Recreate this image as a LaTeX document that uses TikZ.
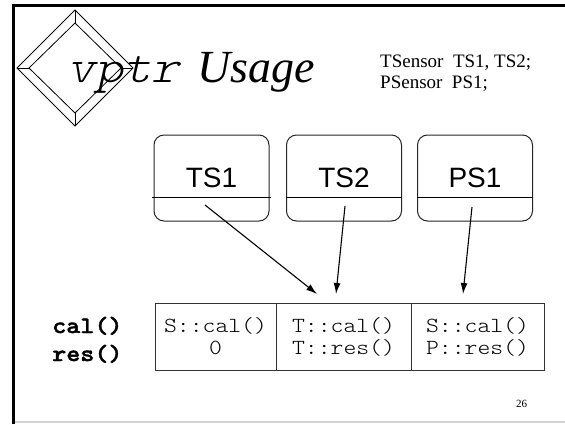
\documentclass[tikz,border=0pt]{standalone}
\usepackage{fontspec}
\setmainfont{Liberation Serif}
\newfontfamily\cour[Extension=.otf, UprightFont=lmmonolt10-regular, BoldFont=lmmonolt10-bold, BoldFeatures={FakeBold=1.6}, FakeStretch=1.14]{lmmonolt10}
\newfontfamily\courslant[Extension=.otf, UprightFont=lmmonolt10-regular, FakeStretch=1.14, FakeSlant=0.22]{lmmonolt10}
\newfontfamily\sansf{Liberation Sans}
\usetikzlibrary{arrows.meta}
\begin{document}
\begin{tikzpicture}[x=1pt,y=-1pt,
  sensor/.style={draw=black!85, line width=1pt, rounded corners=10pt, minimum width=115pt, minimum height=86pt, inner sep=0pt, font=\sansf\fontsize{28}{30}\selectfont},
  cell/.style={draw=black!80, line width=1pt, minimum height=67pt, inner sep=0pt, align=center, font=\cour\fontsize{21.5}{22}\selectfont},
  ptr/.style={line width=1.1pt, -{Latex[length=11pt,width=7pt]}},
  lbl/.style={anchor=base west, inner sep=0pt},
  thinline/.style={line width=0.8pt}]
\useasboundingbox (0,0) rectangle (565,424);
\fill[white] (0,0) rectangle (565,424);
% frame
\draw[gray!35, line width=1.5pt] (13,422) -- (565,422);
\draw[line width=2.6pt] (13.3,424) -- (13.3,5.3) -- (565,5.3);
% diamond logo
\draw[thinline] (75,10) -- (133,68) -- (75,126) -- (17,68) -- cycle;
\draw[thinline] (75,23) -- (121,68) -- (75,113) -- (29,68) -- cycle;
\draw[thinline] (75,10) -- (75,23) (133,68) -- (121,68) (75,126) -- (75,113) (17,68) -- (29,68);
% title
\node[lbl, font=\courslant\fontsize{47}{50}\selectfont] (vptr) at (67,82) {vptr};
\node[lbl, font=\itshape\fontsize{46}{50}\selectfont] (usage) at (197,82) {Usage};
% declarations
\node[lbl, font=\fontsize{19}{21}\selectfont] (decl1) at (380,67) {TSensor\hspace{0.5em}TS1, TS2;};
\node[lbl, font=\fontsize{19}{21}\selectfont] (decl2) at (380,88) {PSensor\hspace{0.5em}PS1;};
% sensor objects
\node[sensor] (ts1) at (211.5,178) {TS1};
\node[sensor] (ts2) at (344,178) {TS2};
\node[sensor] (ps1) at (475,178) {PS1};
\draw[line width=1pt] ([xshift=-1.5pt,yshift=-19pt]ts1.west) -- ([xshift=1.5pt,yshift=-19pt]ts1.east);
\draw[line width=1pt] ([yshift=-19pt]ts2.west) -- ([yshift=-19pt]ts2.east);
\draw[line width=1pt] ([yshift=-19pt]ps1.west) -- ([yshift=-19pt]ps1.east);
% vtable
\node[cell, minimum width=121pt] (c1) at (215.5,336.5) {S::cal()\\0\vphantom{()}};
\node[cell, minimum width=135pt] (c2) at (343.5,336.5) {T::cal()\\T::res()};
\node[cell, minimum width=133pt] (c3) at (477.5,336.5) {S::cal()\\P::res()};
% pointers
\coordinate (s1) at (205,205); \coordinate (t1) at (317,294);
\coordinate (s2) at (345,206); \coordinate (t2) at (336,294);
\coordinate (s3) at (472,207); \coordinate (t3) at (463,294);
\draw[ptr] (s1) -- (t1);
\draw[ptr] (s2) -- (t2);
\draw[ptr] (s3) -- (t3);
% row labels
\node[lbl, font=\cour\bfseries\fontsize{23.5}{28}\selectfont] (cal) at (52,333) {cal()};
\node[lbl, font=\cour\bfseries\fontsize{23.5}{28}\selectfont] (res) at (52,361) {res()};
% page number
\node[lbl, font=\fontsize{11}{12}\selectfont] (pg) at (516,407) {26};
\end{tikzpicture}
\end{document}
